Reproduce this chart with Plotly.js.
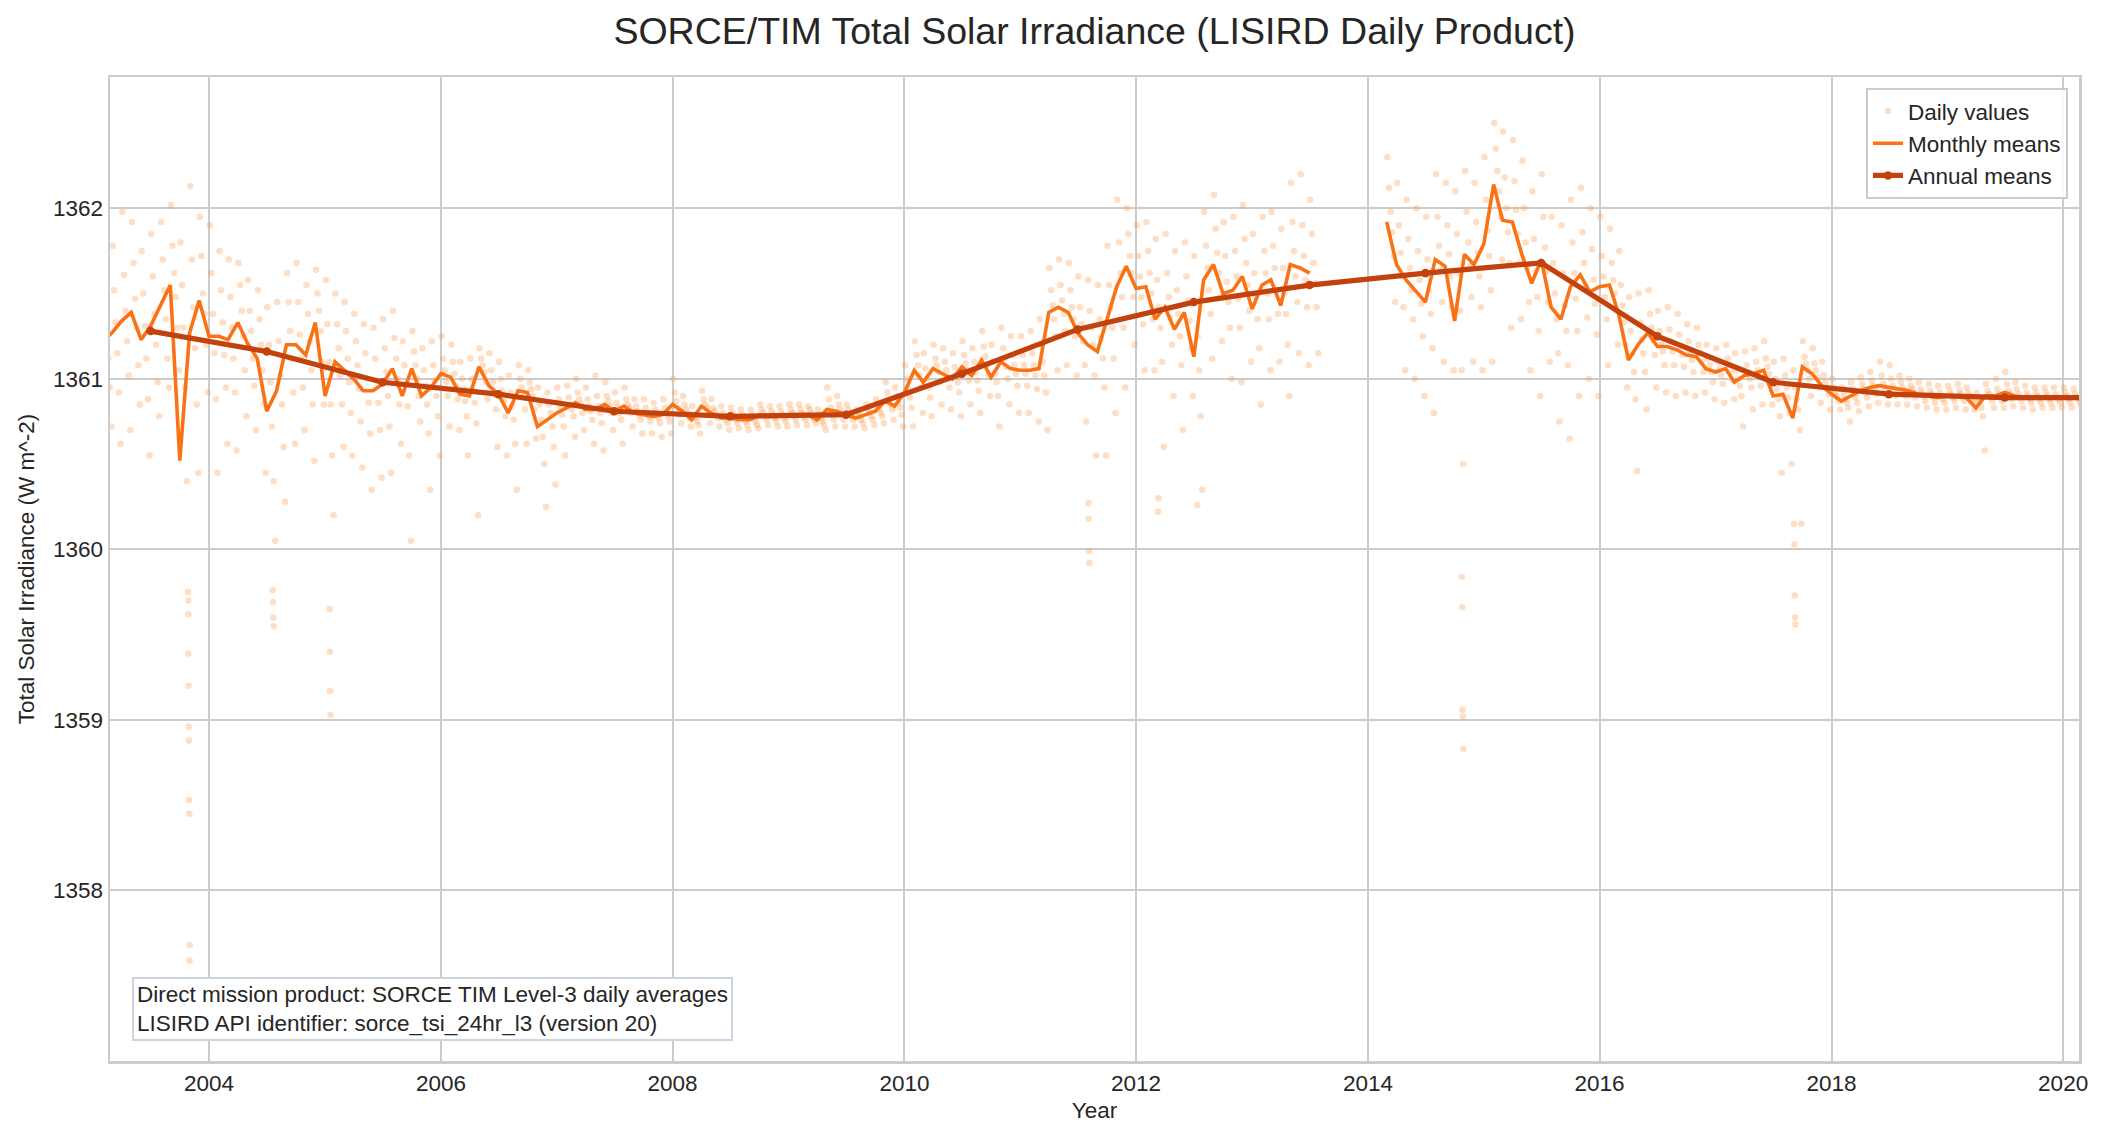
<!DOCTYPE html>
<html>
<head>
<meta charset="utf-8">
<script src="https://cdn.plot.ly/plotly-3.0.1.min.js"></script>
<style>html,body{margin:0;padding:0;background:#fff;}#chart{width:2106px;height:1141px;}</style>
</head>
<body>
<div id="chart"></div>
<script>
// ---------------- DATA ----------------
const years = [2003,2004,2005,2006,2007,2008,2009,2010,2011,2012,2013,2014,2015,2016,2017,2018,2019,2020];
const yTicks = [1358, 1359, 1360, 1361, 1362];

// Monthly means (Jan..Dec, null = no data), W m^-2
const monthly2003 = [null,1361.22,1361.27,1361.34,1361.39,1361.23,1361.31,1361.43,1361.55,1360.52,1361.27,1361.46];
const monthly2004 = [1361.25,1361.25,1361.23,1361.33,1361.21,1361.12,1360.81,1360.93,1361.20,1361.20,1361.14,1361.33];
const monthly2005 = [1360.90,1361.10,1361.05,1361.00,1360.93,1360.93,1360.97,1361.06,1360.90,1361.06,1360.90,1360.95];
const monthly2006 = [1361.03,1361.01,1360.91,1360.90,1361.07,1360.96,1360.91,1360.80,1360.93,1360.92,1360.72,1360.76];
const monthly2007 = [1360.80,1360.83,1360.86,1360.82,1360.82,1360.85,1360.81,1360.84,1360.80,1360.79,1360.78,1360.79];
const monthly2008 = [1360.85,1360.81,1360.76,1360.84,1360.80,1360.77,1360.77,1360.76,1360.76,1360.79,1360.78,1360.78];
const monthly2009 = [1360.79,1360.79,1360.79,1360.76,1360.82,1360.81,1360.79,1360.77,1360.79,1360.81,1360.87,1360.84];
const monthly2010 = [1360.92,1361.05,1360.98,1361.06,1361.03,1361.00,1361.07,1361.02,1361.11,1361.01,1361.10,1361.06];
const monthly2011 = [1361.05,1361.05,1361.06,1361.39,1361.42,1361.39,1361.27,1361.20,1361.16,1361.35,1361.54,1361.66];
const monthly2012 = [1361.53,1361.54,1361.35,1361.42,1361.29,1361.39,1361.13,1361.58,1361.67,1361.50,1361.52,1361.60];
const monthly2013 = [1361.41,1361.55,1361.58,1361.43,1361.67,1361.65,1361.62,null,null,null,null,null];
const monthly2014 = [null,null,1361.92,1361.67,1361.58,1361.51,1361.45,1361.70,1361.66,1361.34,1361.73,1361.67];
const monthly2015 = [1361.79,1362.14,1361.93,1361.92,1361.73,1361.56,1361.70,1361.42,1361.35,1361.54,1361.61,1361.51];
const monthly2016 = [1361.54,1361.55,1361.38,1361.11,1361.20,1361.27,1361.19,1361.19,1361.17,1361.14,1361.13,1361.06];
const monthly2017 = [1361.04,1361.06,1360.98,1361.02,1361.03,1361.05,1360.90,1360.91,1360.77,1361.07,1361.03,1360.96];
const monthly2018 = [1360.91,1360.87,1360.90,1360.93,1360.95,1360.96,1360.95,1360.94,1360.93,1360.91,1360.90,1360.89];
const monthly2019 = [1360.90,1360.90,1360.89,1360.83,1360.90,1360.90,1360.92,1360.90,1360.89,1360.89,1360.89,1360.89];
const monthly2020 = [1360.89,1360.89];

// Annual means (plotted at mid-year)
const annualYears = [2003,2004,2005,2006,2007,2008,2009,2010,2011,2012,2013,2014,2015,2016,2017,2018,2019,2020];
const annualMeans = [1361.28,1361.16,1360.98,1360.91,1360.81,1360.78,1360.79,1361.03,1361.29,1361.45,1361.55,1361.62,1361.68,1361.25,1360.98,1360.91,1360.89,1360.89];

// Daily values, sampled days of each month
const sampleDays = [3, 8, 13, 18, 23, 28];
const daily2003 = [[],
 [1361.65,1361.42,1361.28,1361.12,1360.95,1360.72],[1361.78,1361.52,1361.33,1361.15,1360.92,1360.62],
 [1361.98,1361.61,1361.40,1361.22,1361.02,1360.70],[1361.92,1361.68,1361.47,1361.30,1361.08,1360.85],
 [1361.75,1361.50,1361.31,1361.12,1360.88,1360.55],[1361.85,1361.60,1361.38,1361.20,1360.98,1360.78],
 [1361.92,1361.70,1361.52,1361.35,1361.12,1360.95],[1362.02,1361.78,1361.62,1361.48,1361.30,1361.05],
 [1361.80,1361.55,1361.30,1360.95,1360.40,1359.70],[1362.13,1361.70,1361.42,1361.18,1360.85,1360.45],
 [1361.95,1361.72,1361.50,1361.38,1361.20,1360.92]];
const daily2004 = [
 [1361.90,1361.62,1361.38,1361.15,1360.88,1360.45],[1361.75,1361.52,1361.33,1361.14,1360.95,1360.62],
 [1361.70,1361.48,1361.30,1361.12,1360.92,1360.58],[1361.68,1361.55,1361.40,1361.25,1361.05,1360.78],
 [1361.58,1361.40,1361.28,1361.12,1360.96,1360.70],[1361.52,1361.35,1361.20,1361.05,1360.85,1360.45],
 [1361.42,1361.20,1360.98,1360.72,1360.40,1360.05],[1361.45,1361.22,1361.02,1360.85,1360.60,1360.28],
 [1361.62,1361.45,1361.28,1361.12,1360.92,1360.62],[1361.68,1361.45,1361.26,1361.12,1360.95,1360.70],
 [1361.55,1361.38,1361.22,1361.05,1360.85,1360.52],[1361.64,1361.50,1361.40,1361.28,1361.10,1360.85]];
const daily2005 = [
 [1361.58,1361.32,1361.10,1360.85,1360.55,1360.20],[1361.50,1361.32,1361.18,1361.02,1360.85,1360.60],
 [1361.45,1361.28,1361.12,1360.98,1360.80,1360.55],[1361.38,1361.22,1361.08,1360.94,1360.75,1360.48],
 [1361.32,1361.15,1361.00,1360.86,1360.68,1360.35],[1361.30,1361.12,1360.99,1360.86,1360.70,1360.42],
 [1361.35,1361.18,1361.04,1360.90,1360.72,1360.45],[1361.40,1361.24,1361.12,1361.00,1360.85,1360.62],
 [1361.22,1361.08,1360.97,1360.84,1360.55,1360.05],[1361.28,1361.16,1361.08,1361.00,1360.90,1360.75],
 [1361.18,1361.05,1360.96,1360.85,1360.68,1360.35],[1361.22,1361.08,1360.99,1360.90,1360.78,1360.55]];
const daily2006 = [
 [1361.25,1361.12,1361.05,1360.98,1360.90,1360.72],[1361.20,1361.10,1361.03,1360.96,1360.88,1360.70],
 [1361.10,1361.00,1360.94,1360.87,1360.78,1360.55],[1361.12,1361.00,1360.93,1360.86,1360.74,1360.20],
 [1361.18,1361.12,1361.08,1361.04,1360.98,1360.88],[1361.15,1361.05,1360.98,1360.91,1360.82,1360.60],
 [1361.10,1361.00,1360.93,1360.87,1360.78,1360.55],[1361.02,1360.92,1360.84,1360.76,1360.62,1360.35],
 [1361.08,1361.00,1360.95,1360.90,1360.82,1360.62],[1361.05,1360.98,1360.94,1360.90,1360.82,1360.65],
 [1360.95,1360.85,1360.76,1360.66,1360.50,1360.25],[1360.92,1360.85,1360.80,1360.72,1360.60,1360.38]];
const daily2007 = [
 [1360.95,1360.88,1360.83,1360.79,1360.72,1360.55],[1360.96,1360.89,1360.85,1360.82,1360.78,1360.66],
 [1361.00,1360.92,1360.88,1360.85,1360.80,1360.70],[1360.95,1360.88,1360.84,1360.81,1360.76,1360.62],
 [1361.02,1360.90,1360.84,1360.80,1360.74,1360.58],[1360.98,1360.90,1360.87,1360.84,1360.80,1360.70],
 [1360.92,1360.86,1360.83,1360.80,1360.76,1360.62],[1360.95,1360.88,1360.85,1360.83,1360.80,1360.72],
 [1360.88,1360.84,1360.81,1360.79,1360.76,1360.68],[1360.88,1360.83,1360.80,1360.78,1360.75,1360.68],
 [1360.86,1360.82,1360.79,1360.77,1360.74,1360.66],[1360.88,1360.83,1360.80,1360.78,1360.75,1360.68]];
const daily2008 = [
 [1361.00,1360.92,1360.87,1360.83,1360.79,1360.74],[1360.90,1360.85,1360.82,1360.80,1360.77,1360.72],
 [1360.84,1360.79,1360.77,1360.75,1360.73,1360.68],[1360.93,1360.88,1360.85,1360.83,1360.80,1360.74],
 [1360.88,1360.83,1360.81,1360.79,1360.77,1360.72],[1360.84,1360.80,1360.78,1360.76,1360.74,1360.70],
 [1360.83,1360.80,1360.78,1360.76,1360.74,1360.71],[1360.82,1360.79,1360.77,1360.75,1360.73,1360.70],
 [1360.82,1360.79,1360.77,1360.75,1360.73,1360.71],[1360.85,1360.82,1360.80,1360.78,1360.76,1360.73],
 [1360.84,1360.81,1360.79,1360.77,1360.75,1360.72],[1360.84,1360.81,1360.79,1360.77,1360.75,1360.72]];
const daily2009 = [
 [1360.85,1360.82,1360.80,1360.78,1360.76,1360.73],[1360.85,1360.82,1360.80,1360.78,1360.76,1360.73],
 [1360.84,1360.82,1360.80,1360.78,1360.76,1360.74],[1360.82,1360.79,1360.77,1360.75,1360.73,1360.70],
 [1360.95,1360.88,1360.83,1360.79,1360.76,1360.72],[1360.90,1360.85,1360.82,1360.79,1360.76,1360.72],
 [1360.85,1360.82,1360.80,1360.78,1360.76,1360.72],[1360.82,1360.80,1360.78,1360.76,1360.74,1360.71],
 [1360.85,1360.82,1360.80,1360.78,1360.76,1360.73],[1360.88,1360.84,1360.82,1360.80,1360.78,1360.74],
 [1360.98,1360.92,1360.88,1360.85,1360.82,1360.76],[1360.95,1360.90,1360.86,1360.83,1360.79,1360.72]];
const daily2010 = [
 [1361.08,1361.00,1360.94,1360.89,1360.83,1360.72],[1361.22,1361.14,1361.08,1361.02,1360.95,1360.80],
 [1361.15,1361.06,1361.00,1360.95,1360.89,1360.78],[1361.20,1361.12,1361.08,1361.04,1360.98,1360.85],
 [1361.18,1361.10,1361.05,1361.01,1360.95,1360.82],[1361.15,1361.07,1361.02,1360.98,1360.92,1360.78],
 [1361.22,1361.14,1361.09,1361.05,1360.99,1360.85],[1361.18,1361.10,1361.04,1360.99,1360.93,1360.80],
 [1361.28,1361.19,1361.13,1361.08,1361.02,1360.90],[1361.20,1361.10,1361.03,1360.98,1360.90,1360.72],
 [1361.30,1361.18,1361.12,1361.07,1361.00,1360.85],[1361.25,1361.14,1361.08,1361.03,1360.96,1360.80]];
const daily2011 = [
 [1361.25,1361.14,1361.08,1361.03,1360.96,1360.80],[1361.28,1361.15,1361.08,1361.02,1360.94,1360.75],
 [1361.35,1361.20,1361.10,1361.02,1360.92,1360.70],[1361.65,1361.52,1361.43,1361.35,1361.25,1361.05],
 [1361.70,1361.55,1361.46,1361.38,1361.28,1361.08],[1361.68,1361.52,1361.42,1361.35,1361.25,1361.02],
 [1361.60,1361.42,1361.32,1361.22,1361.08,1360.75],[1361.58,1361.40,1361.30,1361.20,1361.02,1360.55],
 [1361.55,1361.35,1361.24,1361.12,1360.95,1360.55],[1361.78,1361.55,1361.42,1361.30,1361.12,1360.80],
 [1362.05,1361.80,1361.62,1361.48,1361.30,1360.95],[1362.00,1361.85,1361.72,1361.62,1361.48,1361.20]];
const daily2012 = [
 [1361.90,1361.72,1361.60,1361.48,1361.32,1361.05],[1361.92,1361.75,1361.62,1361.50,1361.35,1361.05],
 [1361.82,1361.58,1361.42,1361.30,1361.10,1360.60],[1361.85,1361.62,1361.48,1361.36,1361.20,1360.90],
 [1361.75,1361.52,1361.38,1361.25,1361.08,1360.70],[1361.80,1361.60,1361.46,1361.34,1361.18,1360.90],
 [1361.72,1361.45,1361.25,1361.05,1360.78,1360.35],[1361.98,1361.78,1361.65,1361.52,1361.38,1361.12],
 [1362.08,1361.88,1361.74,1361.62,1361.48,1361.22],[1361.92,1361.72,1361.57,1361.45,1361.30,1361.00],
 [1361.95,1361.75,1361.60,1361.47,1361.30,1360.98],[1362.02,1361.82,1361.68,1361.55,1361.40,1361.10]];
const daily2013 = [
 [1361.85,1361.62,1361.48,1361.35,1361.18,1360.85],[1361.95,1361.75,1361.62,1361.50,1361.35,1361.05],
 [1361.98,1361.78,1361.65,1361.52,1361.38,1361.10],[1361.88,1361.65,1361.50,1361.38,1361.20,1360.90],
 [1362.15,1361.92,1361.75,1361.60,1361.45,1361.15],[1362.20,1361.90,1361.72,1361.58,1361.42,1361.08],
 [1362.05,1361.85,1361.68,1361.56,1361.42,1361.15],[],[],[],[],[]];
const daily2014 = [[],[],
 [1362.30,1362.12,1361.98,1361.86,1361.72,1361.45],[1362.15,1361.90,1361.74,1361.60,1361.42,1361.05],
 [1362.05,1361.82,1361.65,1361.52,1361.35,1361.00],[1362.00,1361.75,1361.58,1361.44,1361.25,1360.90],
 [1361.95,1361.70,1361.52,1361.38,1361.18,1360.80],[1362.20,1361.95,1361.78,1361.64,1361.45,1361.10],
 [1362.15,1361.90,1361.73,1361.60,1361.42,1361.05],[1362.10,1361.85,1361.62,1361.40,1361.05,1360.50],
 [1362.22,1361.98,1361.80,1361.66,1361.48,1361.10],[1362.15,1361.92,1361.74,1361.60,1361.42,1361.05]];
const daily2015 = [
 [1362.30,1362.05,1361.87,1361.72,1361.52,1361.10],[1362.50,1362.35,1362.22,1362.10,1361.95,1361.70],
 [1362.45,1362.18,1362.00,1361.86,1361.68,1361.30],[1362.40,1362.16,1361.99,1361.85,1361.68,1361.35],
 [1362.28,1362.00,1361.80,1361.65,1361.45,1361.05],[1362.10,1361.82,1361.63,1361.48,1361.28,1360.90],
 [1362.20,1361.95,1361.77,1361.63,1361.45,1361.10],[1361.95,1361.68,1361.50,1361.35,1361.15,1360.75],
 [1361.90,1361.62,1361.43,1361.28,1361.08,1360.65],[1362.05,1361.80,1361.62,1361.47,1361.28,1360.90],
 [1362.12,1361.86,1361.68,1361.54,1361.36,1361.00],[1362.00,1361.76,1361.58,1361.44,1361.26,1360.90]];
const daily2016 = [
 [1361.95,1361.72,1361.60,1361.48,1361.35,1361.08],[1361.88,1361.68,1361.58,1361.50,1361.40,1361.20],
 [1361.75,1361.55,1361.43,1361.33,1361.20,1360.95],[1361.48,1361.28,1361.15,1361.04,1360.88,1360.46],
 [1361.50,1361.33,1361.23,1361.15,1361.04,1360.82],[1361.52,1361.38,1361.30,1361.23,1361.14,1360.95],
 [1361.40,1361.28,1361.21,1361.16,1361.08,1360.92],[1361.42,1361.29,1361.22,1361.16,1361.08,1360.90],
 [1361.38,1361.26,1361.19,1361.14,1361.07,1360.92],[1361.32,1361.22,1361.16,1361.11,1361.04,1360.90],
 [1361.30,1361.20,1361.15,1361.10,1361.04,1360.92],[1361.20,1361.12,1361.08,1361.04,1360.98,1360.88]];
const daily2017 = [
 [1361.18,1361.10,1361.06,1361.02,1360.97,1360.86],[1361.20,1361.12,1361.08,1361.04,1360.99,1360.88],
 [1361.15,1361.05,1361.00,1360.96,1360.90,1360.72],[1361.16,1361.08,1361.04,1361.00,1360.95,1360.82],
 [1361.18,1361.10,1361.05,1361.01,1360.96,1360.85],[1361.22,1361.12,1361.07,1361.03,1360.98,1360.85],
 [1361.10,1361.00,1360.94,1360.88,1360.78,1360.45],[1361.12,1361.02,1360.95,1360.89,1360.80,1360.50],
 [1361.05,1360.95,1360.88,1360.82,1360.70,1360.15],[1361.22,1361.13,1361.09,1361.05,1361.00,1360.90],
 [1361.18,1361.09,1361.05,1361.01,1360.96,1360.86],[1361.10,1361.02,1360.98,1360.95,1360.91,1360.82]];
const daily2018 = [
 [1361.00,1360.95,1360.92,1360.90,1360.87,1360.82],[1360.95,1360.91,1360.88,1360.86,1360.83,1360.75],
 [1360.98,1360.94,1360.91,1360.89,1360.86,1360.81],[1361.01,1360.97,1360.94,1360.92,1360.89,1360.84],
 [1361.04,1360.99,1360.96,1360.94,1360.91,1360.86],[1361.10,1361.02,1360.97,1360.94,1360.91,1360.85],
 [1361.08,1361.00,1360.96,1360.93,1360.90,1360.85],[1361.02,1360.98,1360.95,1360.93,1360.90,1360.85],
 [1361.00,1360.96,1360.94,1360.92,1360.89,1360.84],[1360.98,1360.94,1360.92,1360.90,1360.87,1360.83],
 [1360.97,1360.93,1360.91,1360.89,1360.86,1360.82],[1360.96,1360.92,1360.90,1360.88,1360.86,1360.82]];
const daily2019 = [
 [1360.96,1360.93,1360.91,1360.89,1360.87,1360.83],[1360.97,1360.93,1360.91,1360.89,1360.87,1360.82],
 [1360.95,1360.92,1360.90,1360.88,1360.86,1360.82],[1360.92,1360.88,1360.86,1360.83,1360.78,1360.58],
 [1360.97,1360.93,1360.91,1360.89,1360.87,1360.83],[1361.00,1360.94,1360.91,1360.89,1360.87,1360.83],
 [1361.04,1360.97,1360.93,1360.91,1360.88,1360.84],[1360.98,1360.94,1360.91,1360.89,1360.87,1360.83],
 [1360.96,1360.92,1360.90,1360.88,1360.86,1360.82],[1360.95,1360.92,1360.90,1360.88,1360.86,1360.83],
 [1360.95,1360.92,1360.90,1360.88,1360.86,1360.83],[1360.95,1360.91,1360.89,1360.88,1360.86,1360.83]];
const daily2020 = [
 [1360.95,1360.92,1360.90,1360.88,1360.86,1360.83],[1360.94,1360.91,1360.89,1360.88,1360.86,1360.84]];

// Sunspot-dip days (large negative excursions)
const spikeDates = ['2003-10-27','2003-10-28','2003-10-28','2003-10-29','2003-10-29','2003-10-30','2003-10-30','2003-10-31','2003-11-01','2003-11-01',
  '2004-07-20','2004-07-21','2004-07-22','2004-07-23',
  '2005-01-15','2005-01-16','2005-01-17','2005-01-18',
  '2011-08-04','2011-08-05','2011-08-06','2011-08-07',
  '2012-03-10','2012-03-12','2012-07-12',
  '2014-10-24','2014-10-25','2014-10-26','2014-10-27','2014-10-28',
  '2017-09-05','2017-09-06','2017-09-07','2017-09-08','2017-09-09'];
const spikeValues = [1359.75,1359.62,1359.39,1359.20,1358.96,1358.88,1358.53,1358.45,1357.68,1357.59,
  1359.76,1359.69,1359.60,1359.55,
  1359.65,1359.40,1359.17,1359.03,
  1360.27,1360.18,1359.99,1359.92,
  1360.22,1360.30,1360.26,
  1359.84,1359.66,1359.06,1359.02,1358.83,
  1360.15,1360.03,1359.73,1359.60,1359.56];

const monthlyByYear = [monthly2003,monthly2004,monthly2005,monthly2006,monthly2007,monthly2008,monthly2009,monthly2010,monthly2011,monthly2012,monthly2013,monthly2014,monthly2015,monthly2016,monthly2017,monthly2018,monthly2019,monthly2020];
const dailyByYear = [daily2003,daily2004,daily2005,daily2006,daily2007,daily2008,daily2009,daily2010,daily2011,daily2012,daily2013,daily2014,daily2015,daily2016,daily2017,daily2018,daily2019,daily2020];

// ---------------- BUILD TRACES ----------------
function pad2(n){ return (n<10?'0':'')+n; }
const mX = [], mY = [], dX = [], dY = [];
years.forEach((yr, i) => {
  monthlyByYear[i].forEach((v, m) => {
    mX.push(yr + '-' + pad2(m+1) + '-01');
    mY.push(v);
  });
  dailyByYear[i].forEach((vals, m) => {
    vals.forEach((v, k) => {
      dX.push(yr + '-' + pad2(m+1) + '-' + pad2(sampleDays[k]));
      dY.push(v);
    });
  });
});
spikeDates.forEach((d, k) => { dX.push(d); dY.push(spikeValues[k]); });
const aX = annualYears.map(y => y + '-07-01');

const FONT = 'Liberation Sans, Arial, Helvetica, sans-serif';
const TXT = '#262626';

const traces = [
  {x: dX, y: dY, type: 'scatter', mode: 'markers', name: 'Daily values',
   marker: {color: '#fb923c', size: 6.5, opacity: 0.3, line: {width: 0}}},
  {x: mX, y: mY, type: 'scatter', mode: 'lines', name: 'Monthly means', connectgaps: false,
   line: {color: '#f97316', width: 3.6}},
  {x: aX, y: annualMeans, type: 'scatter', mode: 'lines+markers', name: 'Annual means',
   line: {color: '#c2410c', width: 5.2}, marker: {color: '#c2410c', size: 8.5}}
];

const layout = {
  width: 2106, height: 1141, autosize: false,
  margin: {l: 110, r: 27, t: 77, b: 80, pad: 0},
  paper_bgcolor: '#ffffff', plot_bgcolor: '#ffffff',
  font: {family: FONT, size: 22.5, color: TXT},
  title: {text: 'SORCE/TIM Total Solar Irradiance (LISIRD Daily Product)',
          font: {family: FONT, size: 37.5, color: TXT},
          x: 0.5, xref: 'paper', xanchor: 'center', y: 1 - 31/1141, yref: 'container', yanchor: 'middle'},
  xaxis: {type: 'date', range: ['2003-02-23', '2020-02-20'], tickmode: 'linear', tick0: '2004-01-01', dtick: 'M24',
          tickformat: '%Y', showgrid: true, gridcolor: '#cccccc', gridwidth: 2,
          showline: true, linecolor: '#cccccc', linewidth: 2.5, mirror: true, ticks: '', zeroline: false,
          tickfont: {size: 22.5, color: TXT}, automargin: false,
          title: {text: 'Year', font: {size: 22.5, color: TXT}, standoff: 8}},
  yaxis: {range: [1357.0, 1362.77], tickmode: 'array', tickvals: yTicks, ticktext: yTicks.map(String),
          showgrid: true, gridcolor: '#cccccc', gridwidth: 2,
          showline: true, linecolor: '#cccccc', linewidth: 2.5, mirror: true, ticks: '', zeroline: false,
          tickfont: {size: 22.5, color: TXT}, automargin: false,
          title: {text: 'Total Solar Irradiance (W m^-2)', font: {size: 22.5, color: TXT}, standoff: 12}},
  showlegend: true,
  legend: {x: 0.9944, xanchor: 'right', y: 0.989, yanchor: 'top',
           bgcolor: 'rgba(255,255,255,0.85)', bordercolor: '#cccccc', borderwidth: 2,
           font: {size: 22.5, color: TXT}, itemsizing: 'trace', tracegroupgap: 4},
  annotations: [{
    xref: 'paper', yref: 'paper', x: 0.011, y: 0.02, xanchor: 'left', yanchor: 'bottom',
    text: 'Direct mission product: SORCE TIM Level-3 daily averages<br>LISIRD API identifier: sorce_tsi_24hr_l3 (version 20)',
    align: 'left', showarrow: false, font: {size: 22.5, color: TXT},
    bgcolor: '#ffffff', bordercolor: '#cbd5e1', borderwidth: 2, borderpad: 3
  }],
  hovermode: false
};

Plotly.newPlot('chart', traces, layout, {staticPlot: true, displayModeBar: false});
</script>
</body>
</html>
